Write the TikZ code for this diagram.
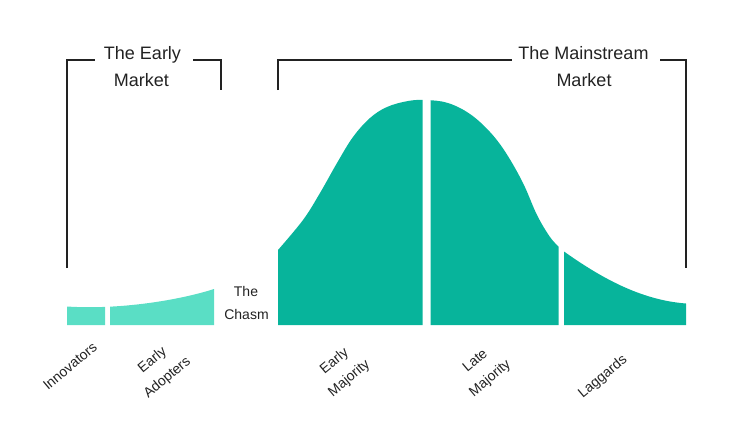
\documentclass[tikz,border=0pt]{standalone}
\usepackage{fontspec}
\setmainfont{Liberation Sans}
\definecolor{mainteal}{RGB}{7,180,155}
\definecolor{lightteal}{RGB}{90,222,197}
\definecolor{ink}{RGB}{34,34,34}
\begin{document}
\begin{tikzpicture}[x=1pt,y=-1pt,
  bracket/.style={draw=ink,line width=2pt,line join=miter},
  title/.style={font=\fontsize{18}{26.7}\selectfont,text=ink,anchor=base,inner sep=0pt},
  small/.style={font=\fontsize{14}{22.5}\selectfont,text=ink,anchor=base,inner sep=0pt},
  lbl/.style={font=\fontsize{14}{23}\selectfont,text=ink,align=center,rotate=40,inner sep=0pt}]
\useasboundingbox (0,0) rectangle (750,437);
% main curve segments
\begin{scope}
  \clip (278,0) rectangle (422.5,330);
  \fill[mainteal] (278,325) -- plot[smooth,tension=0.6] coordinates {(278,250) (303,220) (320,193) (337,163) (353,137) (370,118) (387,107) (408,101) (426,100) (448,103) (470,114) (490,132) (506,153) (523,183) (537,215) (550,237) (559,247)} -- (559,325) -- cycle;
\end{scope}
\begin{scope}
  \clip (430.5,0) rectangle (558.5,330);
  \fill[mainteal] (278,325) -- plot[smooth,tension=0.6] coordinates {(278,250) (303,220) (320,193) (337,163) (353,137) (370,118) (387,107) (408,101) (426,100) (448,103) (470,114) (490,132) (506,153) (523,183) (537,215) (550,237) (559,247)} -- (559,325) -- cycle;
\end{scope}
\fill[mainteal] (564,325) -- (564,251.5) .. controls (600,277) and (640,300) .. (686,303.5) -- (686,325) -- cycle;
% early market segments
\begin{scope}
  \clip (67,250) rectangle (105,330);
  \fill[lightteal] (67,325) -- (67,306.5) .. controls (120,310) and (180,300) .. (214,289) -- (214,325) -- cycle;
\end{scope}
\begin{scope}
  \clip (110,250) rectangle (214,330);
  \fill[lightteal] (67,325) -- (67,306.5) .. controls (120,310) and (180,300) .. (214,289) -- (214,325) -- cycle;
\end{scope}
% brackets
\coordinate (eL) at (67,268);
\coordinate (eTL) at (67,60);
\coordinate (eT1) at (95,60);
\coordinate (eT2) at (193,60);
\coordinate (eTR) at (221,60);
\coordinate (eR) at (221,90);
\coordinate (mL) at (278,90);
\coordinate (mTL) at (278,60);
\coordinate (mT1) at (512,60);
\coordinate (mT2) at (660,60);
\coordinate (mTR) at (686,60);
\coordinate (mR) at (686,268);
\draw[bracket] (eL) -- (eTL) -- (eT1);
\draw[bracket] (eT2) -- (eTR) -- (eR);
\draw[bracket] (mL) -- (mTL) -- (mT1);
\draw[bracket] (mT2) -- (mTR) -- (mR);
% titles
\node[title] (early1) at (142.5,59.3) {The Early};
\node[title] (early2) at (141.5,86) {Market};
\node[title] (main1) at (583.5,59.3) {The Mainstream};
\node[title] (main2) at (584,86) {Market};
\node[small] (chasm1) at (246,296.7) {The};
\node[small] (chasm2) at (246.5,319) {Chasm};
% rotated labels
\node[lbl] (innov) at (70,366) {Innovators};
\node[lbl] (adopt) at (160,369) {Early\\Adopters};
\node[lbl] (emaj) at (342,370) {Early\\Majority};
\node[lbl] (lmaj) at (483,370) {Late\\Majority};
\node[lbl] (lagg) at (603,377) {Laggards};
\end{tikzpicture}
\end{document}
